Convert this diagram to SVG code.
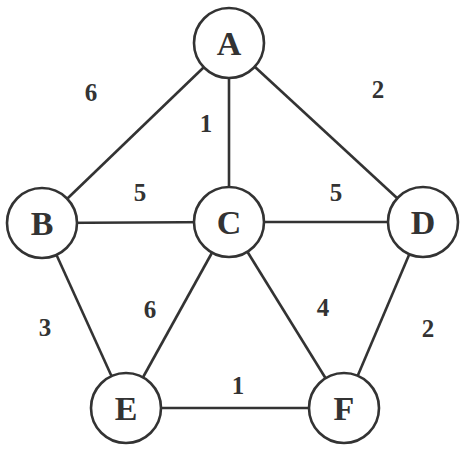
<svg xmlns="http://www.w3.org/2000/svg" width="466" height="449" viewBox="0 0 466 449">
<style>
.edge{stroke:#333;stroke-width:2.6;fill:none}
.node circle{fill:#fff;stroke:#333;stroke-width:2.6}
.node text{font-family:'Liberation Serif','Times New Roman',Times,serif;font-weight:700;font-size:34px;fill:#333;text-anchor:middle}
.lbl{font-family:'Liberation Serif','Times New Roman',Times,serif;font-weight:700;font-size:25px;fill:#333;text-anchor:middle}
</style>
<rect width="466" height="449" fill="#fff"/>
<g id="connectors">
<line class="edge" x1="229" y1="43" x2="42" y2="223"/>
<line class="edge" x1="229" y1="43" x2="229" y2="222"/>
<line class="edge" x1="229" y1="43" x2="423" y2="222"/>
<line class="edge" x1="42" y1="223" x2="229" y2="222"/>
<line class="edge" x1="229" y1="222" x2="423" y2="222"/>
<line class="edge" x1="42" y1="223" x2="126" y2="408"/>
<line class="edge" x1="229" y1="222" x2="126" y2="408"/>
<line class="edge" x1="229" y1="222" x2="344" y2="408"/>
<line class="edge" x1="423" y1="222" x2="344" y2="408"/>
<line class="edge" x1="126" y1="408" x2="344" y2="408"/>
<text class="lbl" x="91" y="101">6</text>
<text class="lbl" x="206" y="132">1</text>
<text class="lbl" x="378" y="98">2</text>
<text class="lbl" x="140" y="201">5</text>
<text class="lbl" x="336" y="201">5</text>
<text class="lbl" x="45" y="336">3</text>
<text class="lbl" x="150" y="318">6</text>
<text class="lbl" x="323" y="316">4</text>
<text class="lbl" x="428" y="337">2</text>
<text class="lbl" x="238" y="394">1</text>
</g>
<g id="node-A" class="node"><circle cx="229" cy="43" r="35"/><text x="229" y="55">A</text></g>
<g id="node-B" class="node"><circle cx="42" cy="223" r="35"/><text x="42" y="235">B</text></g>
<g id="node-C" class="node"><circle cx="229" cy="222" r="35"/><text x="229" y="234">C</text></g>
<g id="node-D" class="node"><circle cx="423" cy="222" r="35"/><text x="423" y="234">D</text></g>
<g id="node-E" class="node"><circle cx="126" cy="408" r="35"/><text x="126" y="420">E</text></g>
<g id="node-F" class="node"><circle cx="344" cy="408" r="35"/><text x="344" y="420">F</text></g>
</svg>
